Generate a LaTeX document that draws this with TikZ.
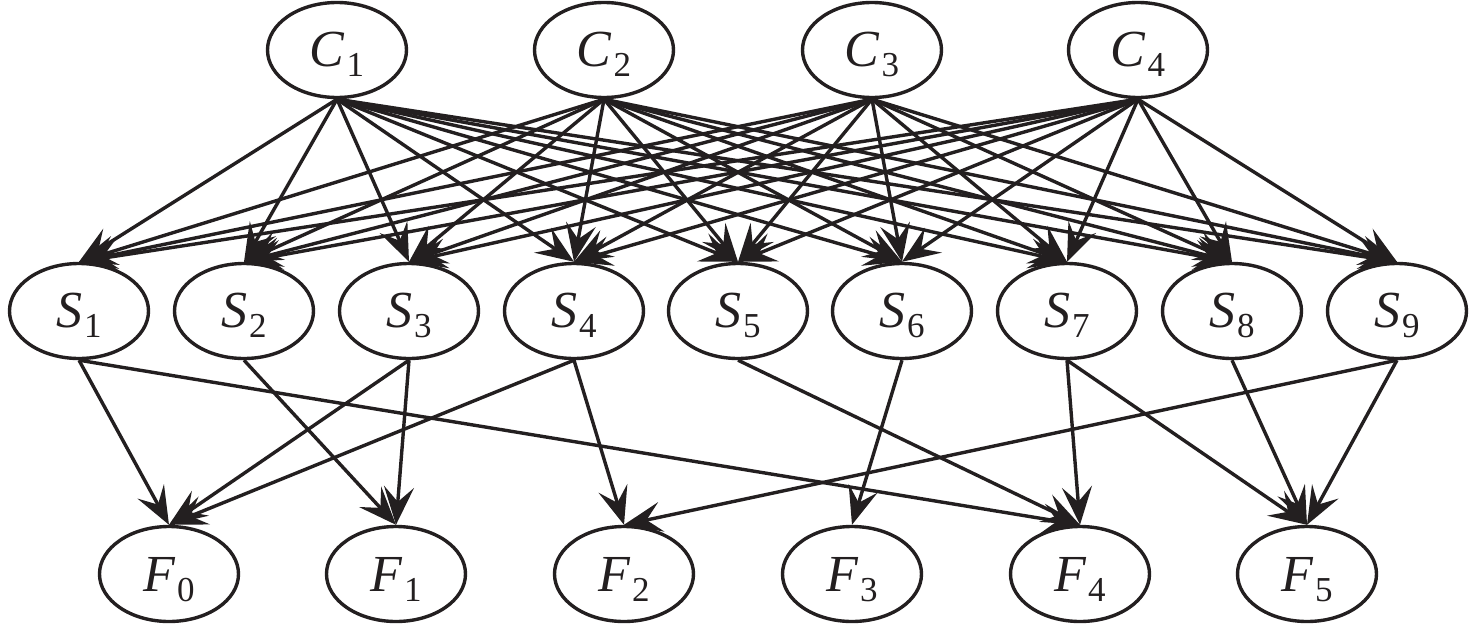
\documentclass[tikz,border=0pt]{standalone}
\usepackage{fontspec}
\setmainfont{Liberation Serif}
\usetikzlibrary{shapes.geometric,arrows.meta}
\definecolor{ink}{HTML}{231F20}
\newcommand{\vlab}[2]{\fontsize{52}{60}\selectfont\textit{#1}\kern1.5pt\raisebox{-10pt}[0pt][0pt]{\fontsize{35}{40}\selectfont #2}}
\begin{document}
\begin{tikzpicture}[x=1pt,y=-1pt,
  var/.style={ellipse,draw=ink,line width=3.4pt,minimum width=139pt,minimum height=95pt,inner sep=0pt,text=ink},
  edge/.style={draw=ink,line width=3.4pt,-{Stealth[length=38pt,width=30pt,inset=15pt]}}]
\useasboundingbox (0,0) rectangle (1476,624);
% C row
\foreach \i/\x in {1/337,2/604,3/872,4/1138}
  \node[var] (C\i) at (\x,50) {\vlab{C}{\i}};
% S row
\foreach \i/\x in {1/79,2/244,3/409,4/574,5/738,6/902,7/1067,8/1232,9/1397}
  \node[var] (S\i) at (\x,311) {\vlab{S}{\i}};
% F row
\foreach \i/\x in {0/169,1/396,2/624,3/852,4/1080,5/1307}
  \node[var] (F\i) at (\x,574) {\vlab{F}{\i}};
% C -> S
\foreach \c in {1,...,4}
  \foreach \s in {1,...,9}
    \draw[edge] (C\c.south) -- (S\s.north);
% S -> F
\foreach \s/\f in {1/0,1/4,2/1,3/0,3/1,4/0,4/2,5/4,6/3,7/4,7/5,8/5,9/2,9/5}
  \draw[edge] (S\s.south) -- (F\f.north);
\end{tikzpicture}
\end{document}
